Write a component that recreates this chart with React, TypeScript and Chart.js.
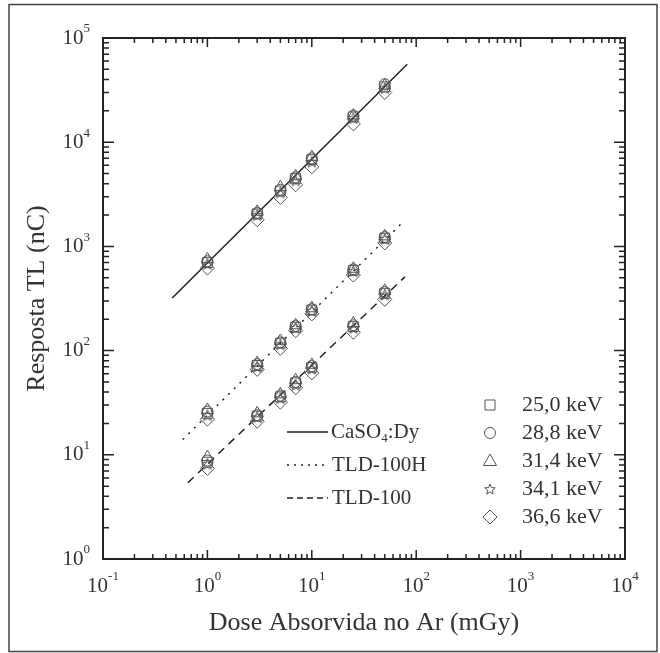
import React, { useEffect, useRef } from 'react';
import { Chart, registerables } from 'chart.js';

Chart.register(...registerables);

// ---------- data ----------
const doses = [1, 3, 5, 7, 10, 25, 50];
const energyLabels = ['25,0 keV', '28,8 keV', '31,4 keV', '34,1 keV', '36,6 keV'];

// CaSO4:Dy response (nC) per energy
const caso4_250 = [700, 2050, 3400, 4500, 6800, 17500, 34000];
const caso4_288 = [720, 2100, 3500, 4600, 7000, 18000, 36000];
const caso4_314 = [750, 2150, 3700, 4700, 7200, 18000, 35000];
const caso4_341 = [680, 2000, 3300, 4300, 6500, 17000, 33000];
const caso4_366 = [620, 1800, 2950, 3900, 5800, 15000, 30000];

// TLD-100H response (nC)
const tld100h_250 = [25, 72, 118, 168, 245, 590, 1200];
const tld100h_288 = [26, 74, 120, 172, 250, 600, 1230];
const tld100h_314 = [27, 76, 124, 175, 255, 610, 1250];
const tld100h_341 = [24, 70, 115, 165, 240, 580, 1180];
const tld100h_366 = [22, 66, 105, 155, 225, 530, 1080];

// TLD-100 response (nC)
const tld100_250 = [8.5, 23.5, 36, 49, 69, 170, 355];
const tld100_288 = [8.8, 24, 37, 50, 71, 175, 365];
const tld100_314 = [9.5, 25, 38, 52, 73, 182, 375];
const tld100_341 = [8.2, 23, 35, 47, 67, 165, 345];
const tld100_366 = [7.4, 21, 32, 44, 61, 150, 310];

// fitted lines (end points)
const caso4FitX = [0.46, 82];
const caso4FitY = [320, 56000];
const tld100hFitX = [0.58, 72];
const tld100hFitY = [14, 1650];
const tld100FitX = [0.65, 78];
const tld100FitY = [5.4, 510];

const lineLabels = ['CaSO4:Dy', 'TLD-100H', 'TLD-100'];

// axis decades
const xDecades = [-1, 0, 1, 2, 3, 4];
const yDecades = [0, 1, 2, 3, 4, 5];

const FONT = '"Liberation Serif", "Times New Roman", serif';
const MARK = '#555';
const INK = '#222';

function makeStar(): HTMLCanvasElement {
  const c = document.createElement('canvas');
  c.width = 14;
  c.height = 14;
  const g = c.getContext('2d')!;
  drawStarPath(g, 7, 7.5, 6, 2.6);
  g.strokeStyle = MARK;
  g.lineWidth = 1;
  g.stroke();
  return c;
}

function drawStarPath(g: CanvasRenderingContext2D, cx: number, cy: number, ro: number, ri: number) {
  g.beginPath();
  for (let i = 0; i < 10; i++) {
    const r = i % 2 === 0 ? ro : ri;
    const a = -Math.PI / 2 + (i * Math.PI) / 5;
    const px = cx + r * Math.cos(a);
    const py = cy + r * Math.sin(a);
    if (i === 0) g.moveTo(px, py);
    else g.lineTo(px, py);
  }
  g.closePath();
}

function drawSymbol(g: CanvasRenderingContext2D, kind: number, x: number, y: number) {
  g.save();
  g.strokeStyle = MARK;
  g.lineWidth = 1;
  g.beginPath();
  if (kind === 0) {
    g.rect(x - 5, y - 5, 10, 10);
  } else if (kind === 1) {
    g.arc(x, y, 5.5, 0, Math.PI * 2);
  } else if (kind === 2) {
    g.moveTo(x, y - 7);
    g.lineTo(x + 6.5, y + 4.5);
    g.lineTo(x - 6.5, y + 4.5);
    g.closePath();
  } else if (kind === 3) {
    drawStarPath(g, x, y + 0.5, 5.5, 2.4);
  } else {
    g.moveTo(x, y - 7);
    g.lineTo(x + 7, y);
    g.lineTo(x, y + 7);
    g.lineTo(x - 7, y);
    g.closePath();
  }
  g.stroke();
  g.restore();
}

function powLabel(g: CanvasRenderingContext2D, exp: number, x: number, y: number, align: 'center' | 'right') {
  const base = '10';
  const e = String(exp);
  g.font = `21px ${FONT}`;
  const wb = g.measureText(base).width;
  g.font = `13px ${FONT}`;
  const we = g.measureText(e).width;
  const total = wb + we;
  const left = align === 'center' ? x - total / 2 : x - total;
  g.fillStyle = '#333';
  g.textAlign = 'left';
  g.textBaseline = 'middle';
  g.font = `21px ${FONT}`;
  g.fillText(base, left, y);
  g.font = `13px ${FONT}`;
  g.fillText(e, left + wb, y - 9);
}

export default function App() {
  const ref = useRef<HTMLCanvasElement>(null);

  useEffect(() => {
    const canvas = ref.current!;
    const star = makeStar();

    const groups = [
      [caso4_250, caso4_288, caso4_314, caso4_341, caso4_366],
      [tld100h_250, tld100h_288, tld100h_314, tld100h_341, tld100h_366],
      [tld100_250, tld100_288, tld100_314, tld100_341, tld100_366],
    ];
    const styles: any[] = ['rect', 'circle', 'triangle', star, 'rectRot'];
    const radii = [7, 5.5, 7, 6, 7];

    const datasets: any[] = [];
    groups.forEach((g, gi) => {
      g.forEach((vals, ei) => {
        datasets.push({
          type: 'scatter',
          label: `${lineLabels[gi]} ${energyLabels[ei]}`,
          data: doses.map((d, i) => ({ x: d, y: vals[i] })),
          pointStyle: styles[ei],
          pointRadius: radii[ei],
          borderColor: MARK,
          backgroundColor: 'rgba(0,0,0,0)',
          borderWidth: 1,
          order: 0,
        });
      });
    });

    const fits = [
      { xs: caso4FitX, ys: caso4FitY, dash: [] as number[] },
      { xs: tld100hFitX, ys: tld100hFitY, dash: [2, 6] },
      { xs: tld100FitX, ys: tld100FitY, dash: [8, 6] },
    ];
    fits.forEach((f, i) => {
      datasets.push({
        type: 'line',
        label: lineLabels[i],
        data: f.xs.map((x, k) => ({ x, y: f.ys[k] })),
        borderColor: INK,
        borderWidth: 1.5,
        borderDash: f.dash,
        pointRadius: 0,
        showLine: true,
        fill: false,
        order: 1,
      });
    });

    const decor = {
      id: 'decor',
      beforeDraw(chart: any) {
        const g = chart.ctx as CanvasRenderingContext2D;
        g.save();
        g.fillStyle = '#fff';
        g.fillRect(0, 0, chart.width, chart.height);
        g.strokeStyle = '#444';
        g.lineWidth = 1.5;
        g.strokeRect(9, 4.5, 648, 647);
        g.restore();
      },
      afterDraw(chart: any) {
        const g = chart.ctx as CanvasRenderingContext2D;
        const { left, right, top, bottom } = chart.chartArea;
        const xs = chart.scales.x;
        const ys = chart.scales.y;
        g.save();
        g.strokeStyle = INK;
        g.lineWidth = 2;
        g.strokeRect(left, top, right - left, bottom - top);

        // inward ticks
        g.lineWidth = 1.5;
        g.beginPath();
        for (let k = -1; k <= 4; k++) {
          for (let m = 1; m <= 9; m++) {
            const v = m * Math.pow(10, k);
            if (v < 0.1 || v > 10000) continue;
            const px = xs.getPixelForValue(v);
            const len = m === 1 ? 9 : 5;
            g.moveTo(px, bottom);
            g.lineTo(px, bottom - len);
            g.moveTo(px, top);
            g.lineTo(px, top + len);
          }
        }
        for (let k = 0; k <= 5; k++) {
          for (let m = 1; m <= 9; m++) {
            const v = m * Math.pow(10, k);
            if (v < 1 || v > 100000) continue;
            const py = ys.getPixelForValue(v);
            const len = m === 1 ? 11 : 6;
            g.moveTo(left, py);
            g.lineTo(left + len, py);
            g.moveTo(right, py);
            g.lineTo(right - len, py);
          }
        }
        g.stroke();

        // tick labels
        xDecades.forEach((e) => {
          powLabel(g, e, xs.getPixelForValue(Math.pow(10, e)), 586, 'center');
        });
        yDecades.forEach((e) => {
          powLabel(g, e, 90, ys.getPixelForValue(Math.pow(10, e)), 'right');
        });

        // axis titles
        g.fillStyle = '#333';
        g.font = `26px ${FONT}`;
        g.textAlign = 'center';
        g.textBaseline = 'middle';
        g.fillText('Dose Absorvida no Ar (mGy)', (left + right) / 2, 623);
        g.save();
        g.translate(37, (top + bottom) / 2);
        g.rotate(-Math.PI / 2);
        g.fillText('Resposta TL (nC)', 0, 0);
        g.restore();

        // line legend
        const ly = [432, 465, 498];
        const dashes = [[], [2, 5], [6, 4]];
        g.strokeStyle = INK;
        g.lineWidth = 1.5;
        ly.forEach((y, i) => {
          g.setLineDash(dashes[i]);
          g.beginPath();
          g.moveTo(287, y);
          g.lineTo(328, y);
          g.stroke();
        });
        g.setLineDash([]);
        g.fillStyle = '#333';
        g.textAlign = 'left';
        g.textBaseline = 'middle';
        g.font = `21px ${FONT}`;
        let tx = 331;
        g.fillText('CaSO', tx, ly[0]);
        tx += g.measureText('CaSO').width;
        g.font = `13px ${FONT}`;
        g.fillText('4', tx, ly[0] + 7);
        tx += g.measureText('4').width;
        g.font = `21px ${FONT}`;
        g.fillText(':Dy', tx, ly[0]);
        g.fillText('TLD-100H', 332, ly[1]);
        g.fillText('TLD-100', 332, ly[2]);

        // symbol legend
        const sy = [405, 433, 461, 489, 517];
        sy.forEach((y, i) => {
          drawSymbol(g, i, 490, y);
          g.fillStyle = '#333';
          g.font = `22px ${FONT}`;
          g.textAlign = 'left';
          g.textBaseline = 'middle';
          g.fillText(energyLabels[i], 522, y);
        });
        g.restore();
      },
    };

    const chart = new Chart(canvas, {
      type: 'scatter',
      data: { datasets },
      options: {
        responsive: false,
        animation: false,
        devicePixelRatio: 1,
        layout: { padding: { left: 103, top: 38, right: 35, bottom: 94 } },
        plugins: { legend: { display: false }, tooltip: { enabled: false } },
        scales: {
          x: {
            type: 'logarithmic',
            min: 0.1,
            max: 10000,
            ticks: { display: false },
            grid: { display: false, drawTicks: false },
            border: { display: false },
          },
          y: {
            type: 'logarithmic',
            min: 1,
            max: 100000,
            ticks: { display: false },
            grid: { display: false, drawTicks: false },
            border: { display: false },
          },
        },
      } as any,
      plugins: [decor],
    });
    return () => chart.destroy();
  }, []);

  return (
    <div style={{ position: 'fixed', left: 0, top: 0, width: 660, height: 653, background: '#fff' }}>
      <canvas ref={ref} width={660} height={653} style={{ display: 'block', width: 660, height: 653 }} />
    </div>
  );
}
